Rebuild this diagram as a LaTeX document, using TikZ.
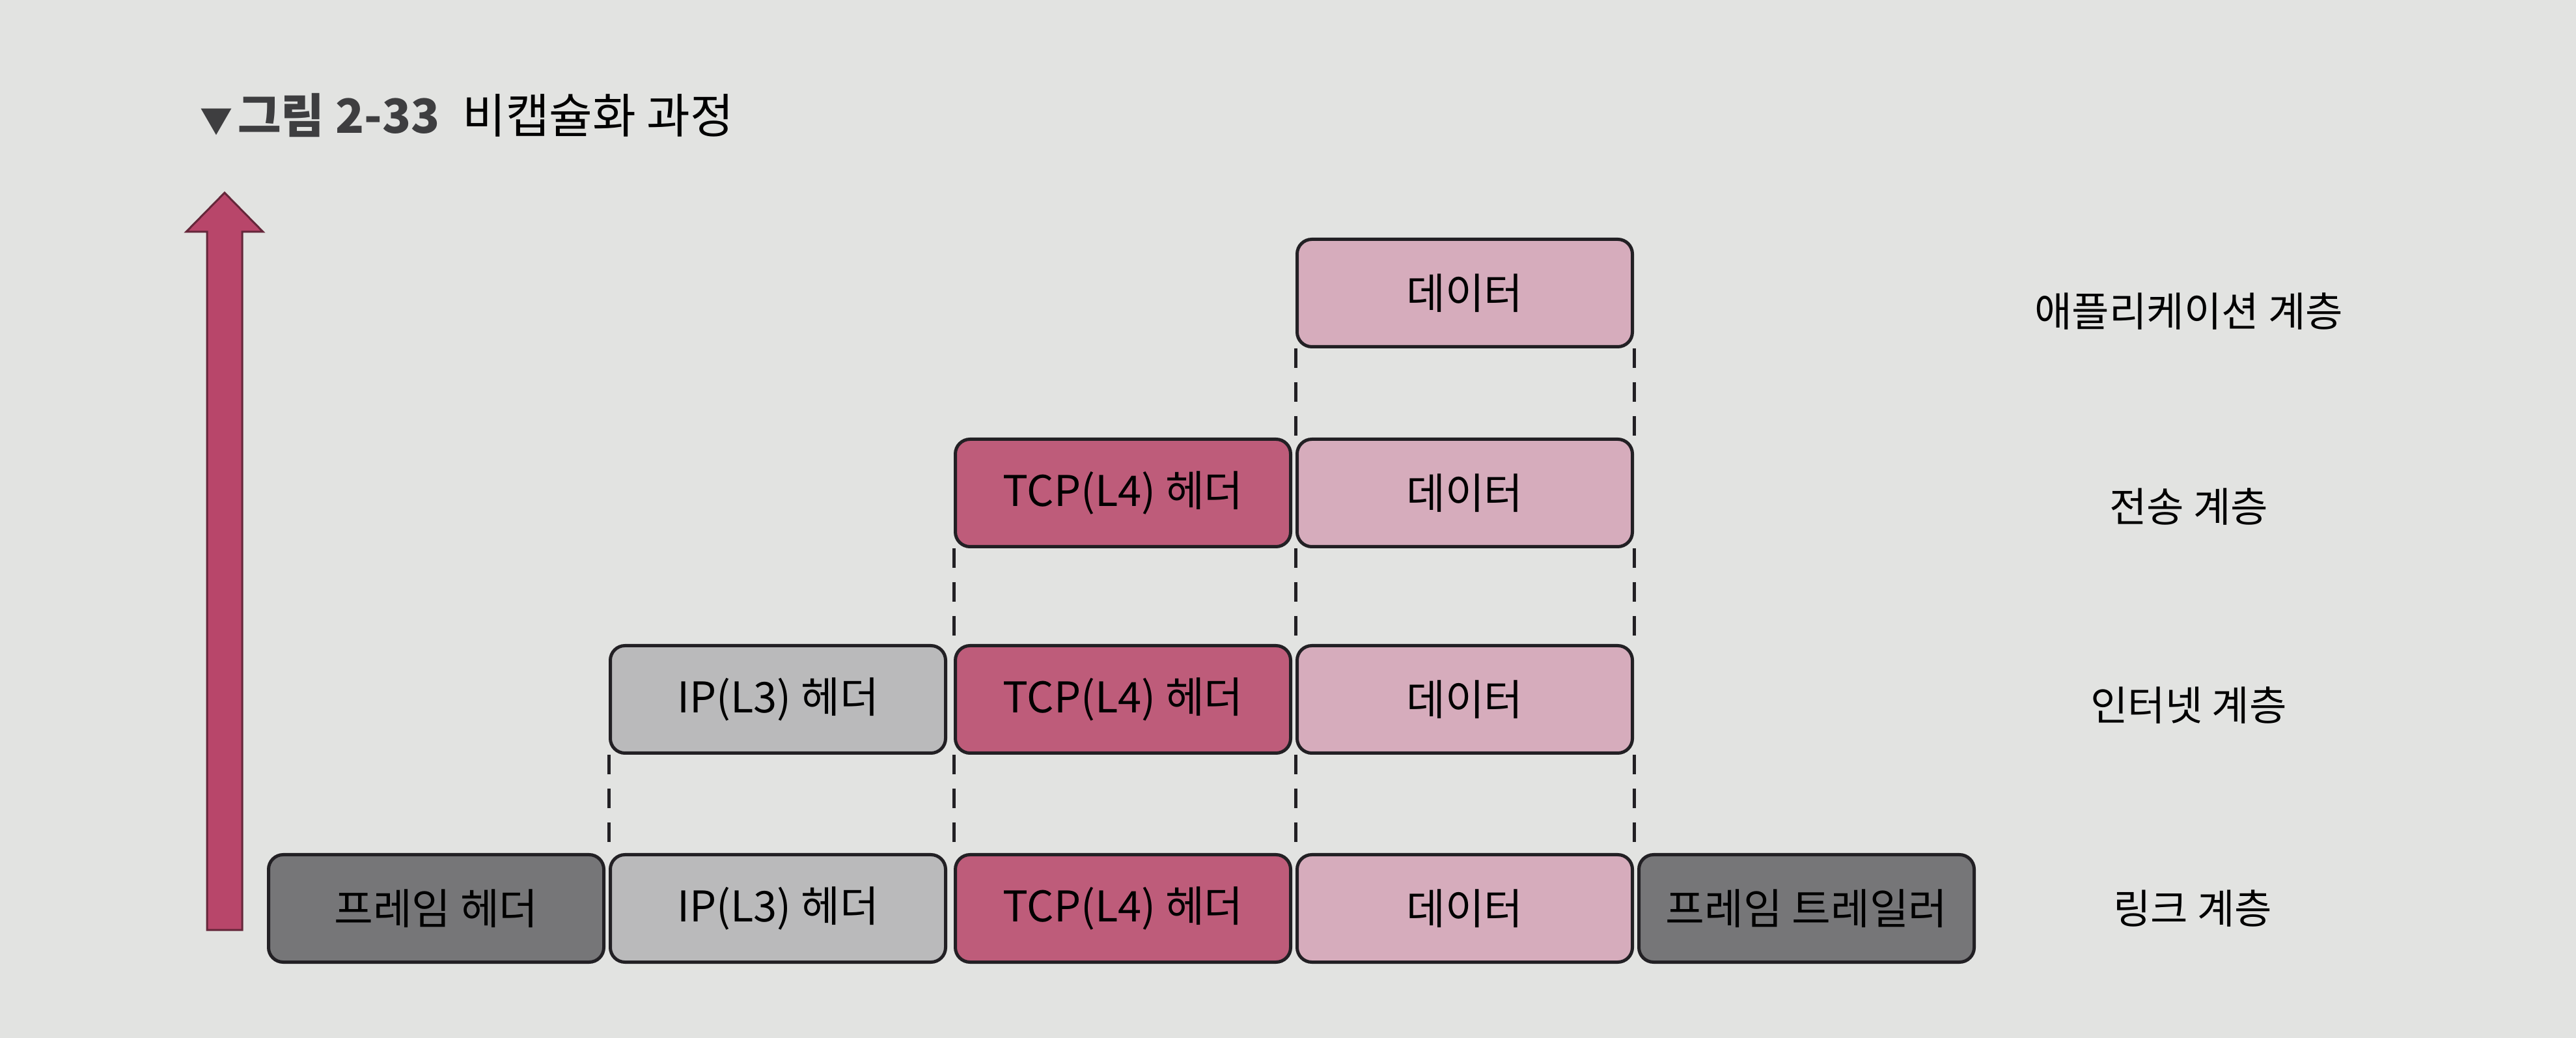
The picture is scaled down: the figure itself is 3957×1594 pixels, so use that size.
\documentclass[tikz,border=0pt]{standalone}
\usepackage{fontspec}
\setmainfont{Noto Sans CJK KR}

\definecolor{paper}{RGB}{226,227,225}
\definecolor{edge}{RGB}{34,32,36}
\definecolor{framegray}{RGB}{118,118,120}
\definecolor{ipgray}{RGB}{186,186,187}
\definecolor{tcpred}{RGB}{190,92,122}
\definecolor{datapink}{RGB}{214,172,188}
\definecolor{arrowred}{RGB}{184,70,106}
\definecolor{titlegray}{RGB}{62,62,64}

\tikzset{
  pdu/.style={draw=edge, line width=1pt, rounded corners=4.5pt, minimum width=103pt, minimum height=33pt, inner sep=0pt, font=\fontsize{13}{15}\selectfont},
  framebox/.style={pdu, fill=framegray},
  ipbox/.style={pdu, fill=ipgray},
  tcpbox/.style={pdu, fill=tcpred},
  databox/.style={pdu, fill=datapink},
  layerlabel/.style={font=\fontsize{12.5}{15}\selectfont},
  dashline/.style={draw=edge, line width=1pt, dash pattern=on 6pt off 4.4pt}
}

\begin{document}
\begin{tikzpicture}[x=0.2pt,y=0.2pt,yscale=-1,xscale=1]
%Background
\fill[paper] (0,0) rectangle (3957,1594);
\useasboundingbox (0,0) rectangle (3957,1594);

% Text Node
\draw (290,177) node [anchor=west] (title) {{\color{titlegray}{\fontsize{10}{12}\selectfont ▼}\hspace{1.5pt}\bfseries\fontsize{14.5}{17}\selectfont 그림 2-33}\hspace{7pt}{\fontsize{14.5}{17}\selectfont 비캡슐화 과정}};

%Shape: Up Arrow
\draw [draw=arrowred!55!black, fill=arrowred, line width=0.6pt] (318,1428) -- (318,356) -- (286,356) -- (345,296) -- (404,356) -- (372,356) -- (372,1428) -- cycle ;

%Shape: Rectangle (application layer)
\draw (2250,450) node [databox] (appData) {데이터};

%Shape: Rectangle (transport layer)
\draw (1725,757) node [tcpbox] (tpTCP) {TCP(L4) 헤더};
\draw (2250,757) node [databox] (tpData) {데이터};

%Shape: Rectangle (internet layer)
\draw (1195,1074) node [ipbox] (netIP) {IP(L3) 헤더};
\draw (1725,1074) node [tcpbox] (netTCP) {TCP(L4) 헤더};
\draw (2250,1074) node [databox] (netData) {데이터};

%Shape: Rectangle (link layer)
\draw (670,1395) node [framebox] (linkFrame) {프레임 헤더};
\draw (1195,1395) node [ipbox] (linkIP) {IP(L3) 헤더};
\draw (1725,1395) node [tcpbox] (linkTCP) {TCP(L4) 헤더};
\draw (2250,1395) node [databox] (linkData) {데이터};
\draw (2775,1395) node [framebox] (linkTrailer) {프레임 트레일러};

%Straight Lines (dashed)
\draw [dashline] (appData.south west) -- (tpData.north west) ;
\draw [dashline] (appData.south east) -- (tpData.north east) ;

\draw [dashline] (tpTCP.south west) -- (netTCP.north west) ;
\draw [dashline] (tpData.south west) -- (netData.north west) ;
\draw [dashline] (tpData.south east) -- (netData.north east) ;

\draw [dashline] (netIP.south west) -- (linkIP.north west) ;
\draw [dashline] (netTCP.south west) -- (linkTCP.north west) ;
\draw [dashline] (netData.south west) -- (linkData.north west) ;
\draw [dashline] (netData.south east) -- (linkData.north east) ;

% Text Node
\draw (3362,478) node [layerlabel] (appLabel) {애플리케이션 계층};
% Text Node
\draw (3362,778) node [layerlabel] (tpLabel) {전송 계층};
% Text Node
\draw (3362,1083) node [layerlabel] (netLabel) {인터넷 계층};
% Text Node
\draw (3368,1395) node [layerlabel] (linkLabel) {링크 계층};

\end{tikzpicture}
\end{document}
